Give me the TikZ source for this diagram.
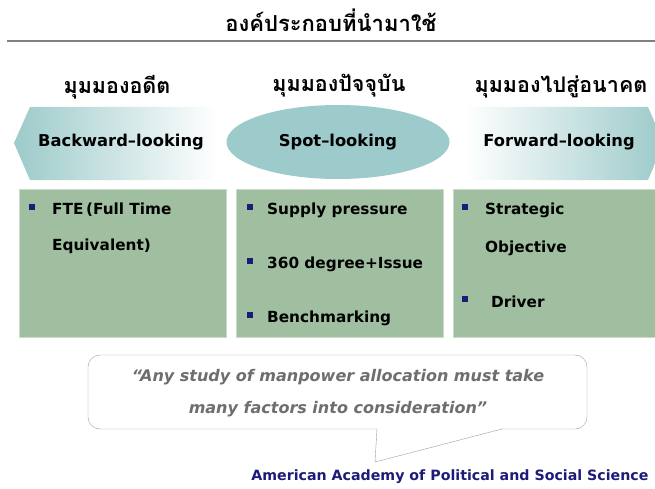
\documentclass[tikz,border=0pt]{standalone}
\usepackage{fontspec}
\setmainfont{DejaVu Sans}
\newfontfamily\thaifont[Script=Thai]{Loma}
\usetikzlibrary{shapes.geometric}
\definecolor{tealfill}{HTML}{9DCACA}
\definecolor{sagebox}{HTML}{A0BFA0}
\definecolor{sageline}{HTML}{CCDACC}
\definecolor{navydot}{HTML}{1C1C78}
\definecolor{quotegray}{HTML}{6E6E6E}
\definecolor{rulegray}{HTML}{808080}
\tikzset{
  head/.style={font=\thaifont\bfseries\fontsize{21.5}{23}\selectfont},
  look/.style={font=\bfseries\fontsize{16.3}{19}\selectfont},
  panel/.style={rectangle, fill=sagebox, draw=sageline, minimum width=207pt, minimum height=148pt},
  item/.style={anchor=west, font=\bfseries\fontsize{15.3}{18}\selectfont, inner sep=0pt},
  dot/.style={rectangle, fill=navydot, minimum size=6pt, inner sep=0pt},
}
\begin{document}
\begin{tikzpicture}[x=1pt,y=-1pt]
    \useasboundingbox (0,0) rectangle (655,489);
    \clip (0,0) rectangle (655,489);
    \node[font=\thaifont\bfseries\fontsize{22}{24}\selectfont] (title) at (331,20) {องค์ประกอบที่นำมาใช้};
    \coordinate (RL) at (7,41);
    \coordinate (RR) at (655,41);
    \draw[rulegray, line width=2pt] (RL) -- (RR);
    % three views
    \node[head] (HB) at (117,87) {มุมมองอดีต};
    \node[head] (HS) at (339,86) {มุมมองปัจจุบัน};
    \node[head] (HF) at (561,87) {มุมมองไปสู่อนาคต};
    \shade[left color=tealfill, right color=white] (14,143) -- (30,107) -- (218,107) -- (218,180) -- (30,180) -- cycle;
    \shade[left color=white, right color=tealfill] (465,107) -- (648,107) -- (664,143) -- (648,180) -- (465,180) -- cycle;
    \node[look] (BW) at (121,142) {Backward–looking};
    \node[look, ellipse, fill=tealfill, minimum width=223pt, minimum height=74pt] (SP) at (338,142) {Spot–looking};
    \node[look] (FW) at (559,142) {Forward–looking};
    % panels
    \node[panel] (PB) at (122.5,263) {};
    \node[panel] (PS) at (339.5,263) {};
    \node[panel] (PF) at (556.5,263) {};
    \node[dot] (d1) at (32,207) {};
    \node[item] (i1) at (52,210) {FTE\,(Full Time};
    \node[item] (i1b) at (52,246) {Equivalent)};
    \node[dot] (d2) at (250,207) {};
    \node[item] (i2) at (267,210) {Supply pressure};
    \node[dot] (d3) at (250,261) {};
    \node[item] (i3) at (267,264) {360 degree+Issue};
    \node[dot] (d4) at (250,315) {};
    \node[item] (i4) at (267,318) {Benchmarking};
    \node[dot] (d5) at (465,207) {};
    \node[item] (i5) at (485,210) {Strategic};
    \node[item] (i5b) at (485,248) {Objective};
    \node[dot] (d6) at (465,299) {};
    \node[item] (i6) at (491,302) {Driver};
    % quote bubble
    \node[rectangle, rounded corners=12pt, draw=gray!75, fill=white, minimum width=499pt, minimum height=74pt] (bubble) at (337.5,392) {};
    \coordinate (TL) at (377,429);
    \coordinate (TP) at (375,462);
    \coordinate (TR) at (502,429);
    \fill[white] (TL) -- (TP) -- (TR) -- cycle;
    \draw[white, line width=1.5pt] ([xshift=0.6pt]TL) -- ([xshift=-0.6pt]TR);
    \draw[gray!75] (TL) -- (TP) -- (TR);
    \node[text=quotegray, align=center, font=\bfseries\itshape\fontsize{16}{32}\selectfont] (quote) at (338,393) {“Any study of manpower allocation must take\\many factors into consideration”};
    \node[text=navydot, anchor=east, font=\bfseries\fontsize{14.2}{16}\selectfont] (src) at (652,477) {American Academy of Political and Social Science};
\end{tikzpicture}
\end{document}
